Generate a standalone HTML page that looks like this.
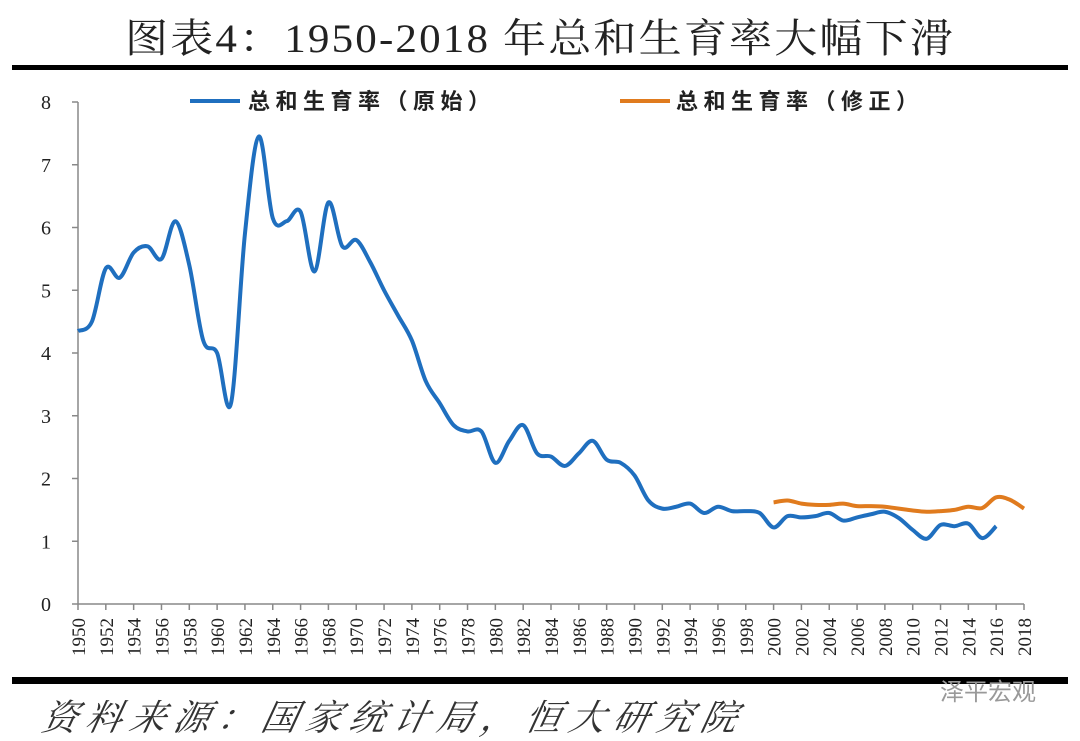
<!DOCTYPE html>
<html><head><meta charset="utf-8"><style>
body{margin:0;background:#fff;width:1080px;height:741px;overflow:hidden}
svg{display:block}
</style></head><body>
<svg width="1080" height="741" viewBox="0 0 1080 741">
<text x="540" y="52" text-anchor="middle" font-family="Liberation Serif, 'Noto Serif CJK SC', serif" font-size="40" letter-spacing="2" fill="#222" textLength="830" lengthAdjust="spacingAndGlyphs">图表4：1950-2018 年总和生育率大幅下滑</text>
<rect x="12" y="65" width="1056" height="5" fill="#000"/>
<rect x="12" y="677" width="1056" height="7" fill="#000"/>
<text x="40" y="730" font-family="'Noto Serif CJK SC', serif" font-size="36" font-style="italic" fill="#333" textLength="695" lengthAdjust="spacing" transform="skewX(-12) translate(155,0)">资料来源：国家统计局，恒大研究院</text>
<text x="940" y="700" font-family="Liberation Sans, 'Noto Sans CJK SC', sans-serif" font-size="24" fill="#999">泽平宏观</text>
<g id="axes"></g>
<g id="series"></g>
<g>
<line x1="190" y1="101" x2="240" y2="101" stroke="#1f6fbf" stroke-width="4"/>
<text x="248" y="109" font-family="Liberation Sans, 'Noto Sans CJK SC', sans-serif" font-size="22" font-weight="bold" fill="#222" textLength="242" lengthAdjust="spacing">总和生育率（原始）</text>
<line x1="620" y1="101" x2="670" y2="101" stroke="#e07b1e" stroke-width="4"/>
<text x="676" y="109" font-family="Liberation Sans, 'Noto Sans CJK SC', sans-serif" font-size="22" font-weight="bold" fill="#222" textLength="242" lengthAdjust="spacing">总和生育率（修正）</text>
</g>
</svg>
<script>
const years=[];for(let y=1950;y<=2018;y++)years.push(y);
const yTicks=[0,1,2,3,4,5,6,7,8];
const originalStart=1950;
const originalValues=[4.35,4.5,5.35,5.2,5.6,5.7,5.5,6.1,5.4,4.2,4.0,3.2,5.9,7.45,6.15,6.1,6.25,5.3,6.4,5.7,5.8,5.45,5.0,4.6,4.2,3.55,3.2,2.85,2.75,2.75,2.25,2.6,2.85,2.4,2.35,2.2,2.4,2.6,2.3,2.25,2.05,1.65,1.52,1.55,1.6,1.45,1.55,1.48,1.48,1.45,1.22,1.4,1.38,1.4,1.45,1.33,1.38,1.43,1.47,1.37,1.18,1.04,1.26,1.24,1.28,1.05,1.24];
const revisedStart=2000;
const revisedValues=[1.62,1.65,1.6,1.58,1.58,1.6,1.56,1.56,1.55,1.52,1.49,1.47,1.48,1.5,1.55,1.53,1.7,1.66,1.52];
const NS='http://www.w3.org/2000/svg';
const X0=78,X1=1024,Y0=604,Y8=102;
const xS=y=>X0+(y-1950)*(X1-X0)/68;
const yS=v=>Y0-v*(Y0-Y8)/8;
function mk(t,a,p){const e=document.createElementNS(NS,t);for(const k in a)e.setAttribute(k,a[k]);p.appendChild(e);return e;}
const ax=document.getElementById('axes');
const yl=mk('line',{x1:X0,y1:Y8,x2:X0,y2:Y0,stroke:'#888','stroke-width':1.5},ax);


const xl=mk('line',{x1:X0,y1:Y0,x2:X1,y2:Y0,stroke:'#888','stroke-width':1.5},ax);


yTicks.forEach(v=>{
 mk('line',{x1:X0-6,y1:yS(v),x2:X0,y2:yS(v),stroke:'#888','stroke-width':1.5},ax);
 const t=mk('text',{x:46,y:yS(v)+7,'text-anchor':'middle','font-family':'Liberation Serif, serif','font-size':20,fill:'#222'},ax);
 t.textContent=v;
 
 
});
years.forEach(y=>{
 if(y%2)return;
 mk('line',{x1:xS(y),y1:Y0,x2:xS(y),y2:Y0+6,stroke:'#888','stroke-width':1.5},ax);
 const t=mk('text',{x:0,y:0,'text-anchor':'end','font-family':'Liberation Serif, serif','font-size':19,fill:'#222',transform:`translate(${xS(y)+7},${Y0+14}) rotate(-90)`},ax);
 t.textContent=y;
 
 
});
function smooth(pts){let d=`M${pts[0][0]},${pts[0][1]}`;
 for(let i=0;i<pts.length-1;i++){const p0=pts[i-1]||pts[i],p1=pts[i],p2=pts[i+1],p3=pts[i+2]||p2;
 d+=` C${p1[0]+(p2[0]-p0[0])/6},${p1[1]+(p2[1]-p0[1])/6} ${p2[0]-(p3[0]-p1[0])/6},${p2[1]-(p3[1]-p1[1])/6} ${p2[0]},${p2[1]}`;}
 return d;}
const sg=document.getElementById('series');
const p1=mk('path',{d:smooth(originalValues.map((v,i)=>[xS(originalStart+i),yS(v)])),fill:'none',stroke:'#1f6fbf','stroke-width':4,'stroke-linejoin':'round'},sg);


const p2=mk('path',{d:smooth(revisedValues.map((v,i)=>[xS(revisedStart+i),yS(v)])),fill:'none',stroke:'#e07b1e','stroke-width':4,'stroke-linejoin':'round'},sg);


</script>
</body></html>
